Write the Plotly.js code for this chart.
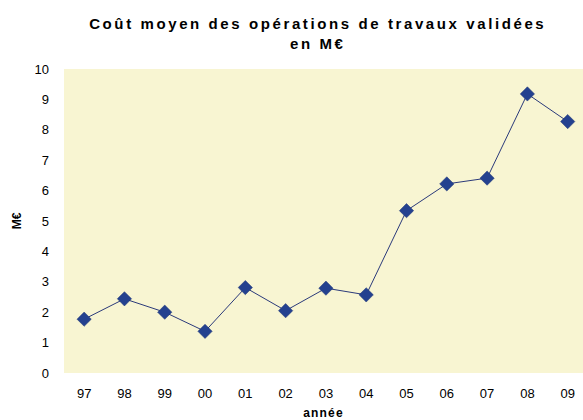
<!DOCTYPE html>
<html>
<head>
<meta charset="utf-8">
<script src="https://cdn.plot.ly/plotly-3.0.1.min.js"></script>
<style>html,body{margin:0;padding:0;background:#fff;}#chart{width:583px;height:420px;}
.gtitle{letter-spacing:2.6px;}
.xtitle{letter-spacing:1.2px;}</style>
</head>
<body>
<div id="chart"></div>
<script>
const years = ["97","98","99","00","01","02","03","04","05","06","07","08","09"];
const costs = [1.77, 2.44, 2.00, 1.37, 2.81, 2.05, 2.79, 2.57, 5.34, 6.22, 6.41, 9.18, 8.27];
const yTicks = [0,1,2,3,4,5,6,7,8,9,10];

const font = "Liberation Sans, Arial, sans-serif";
Plotly.newPlot("chart", [{
  x: years,
  y: costs,
  type: "scatter",
  mode: "lines+markers",
  line: {color: "#2B3A7A", width: 1},
  marker: {symbol: "diamond", size: 11, color: "#24418F", line: {color: "#1E3575", width: 0.5}},
  hoverinfo: "skip"
}], {
  width: 583, height: 420,
  margin: {l: 64, r: 0, t: 69, b: 47, pad: 0},
  paper_bgcolor: "#ffffff",
  plot_bgcolor: "#F8F5D2",
  showlegend: false,
  font: {family: font, size: 13, color: "#000"},
  title: {
    text: "<b>Coût moyen des opérations de travaux validées<br>en M€</b>",
    font: {family: font, size: 15, color: "#000"},
    x: 0.545, xref: "container", xanchor: "center",
    y: 0.93, yref: "container", yanchor: "top"
  },
  xaxis: {
    type: "category",
    range: [-0.5, 12.38],
    showgrid: false, zeroline: false, showline: false,
    ticks: "", ticklabelstandoff: 11,
    tickfont: {family: font, size: 13},
    title: {text: "<b>année</b>", font: {family: font, size: 12}, standoff: 8}
  },
  yaxis: {
    range: [0, 10],
    tickvals: yTicks,
    showgrid: false, zeroline: false, showline: false,
    ticks: "", ticklabelstandoff: 14,
    tickfont: {family: font, size: 13},
    title: {text: "<b>M€</b>", font: {family: font, size: 12}, standoff: 10}
  }
}, {displayModeBar: false, staticPlot: true});
</script>
</body>
</html>
